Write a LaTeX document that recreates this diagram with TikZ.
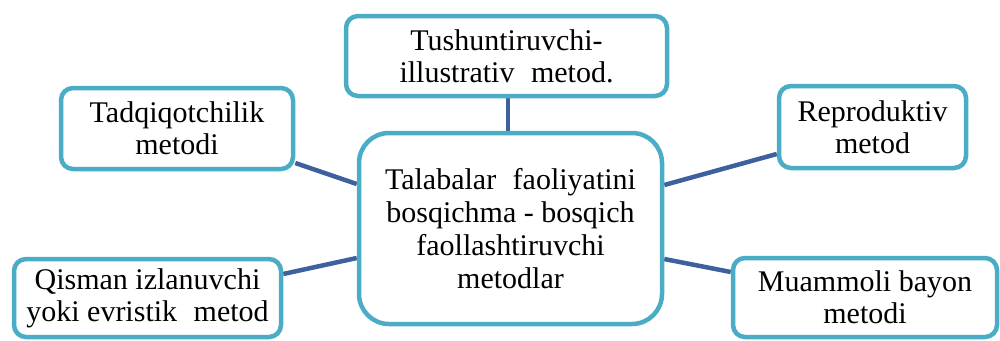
\documentclass[tikz,border=0pt]{standalone}
\usepackage{fontspec}
\setmainfont{Liberation Serif}
\newfontfamily\tnrfont{Liberation Serif}
\usetikzlibrary{backgrounds}
\definecolor{boxborder}{RGB}{75,172,198}
\definecolor{linkblue}{RGB}{62,96,158}
\tikzset{
  methodbox/.style={draw=boxborder, line width=4.5pt, fill=white, rounded corners=12pt,
    align=center, inner sep=0pt, font=\tnrfont\fontsize{30}{32}\selectfont},
  centerbox/.style={methodbox, rounded corners=30pt, font=\tnrfont\fontsize{30}{33}\selectfont},
  link/.style={draw=linkblue, line width=4.5pt}
}
\begin{document}
\begin{tikzpicture}[x=1pt,y=-1pt]
\useasboundingbox (0,0) rectangle (1000,340);
\clip (0,0) rectangle (1000,340);
\node[centerbox, minimum width=303pt, minimum height=191pt] (c) at (510.5,228.5)
  {Talabalar\hspace{0.3em} faoliyatini\\bosqichma - bosqich\\faollashtiruvchi\\metodlar};
\node[methodbox, minimum width=321pt, minimum height=80pt] (top) at (506.5,56)
  {Tushuntiruvchi-\\illustrativ\hspace{0.3em} metod.};
\node[methodbox, minimum width=232pt, minimum height=81pt] (tad) at (177,128.5)
  {Tadqiqotchilik\\metodi};
\node[methodbox, minimum width=187pt, minimum height=82pt] (rep) at (872.5,127)
  {Reproduktiv\\metod};
\node[methodbox, minimum width=267pt, minimum height=78pt] (qis) at (147.5,298)
  {Qisman izlanuvchi\\yoki evristik\hspace{0.3em} metod};
\node[methodbox, minimum width=264pt, minimum height=79pt] (mua) at (865,297.5)
  {Muammoli bayon\\metodi};
\begin{scope}[on background layer]
\draw[link] ([xshift=1.5pt]top.south) -- ([xshift=-2.5pt]c.north);
\draw[link] ([yshift=-34.5pt]tad.east) -- ([yshift=44.5pt]c.west);
\draw[link] ([yshift=43.5pt]c.east) -- ([yshift=-27pt]rep.west);
\draw[link] ([yshift=24pt]qis.east) -- ([yshift=-29.5pt]c.west);
\draw[link] ([yshift=-30.5pt]c.east) -- ([yshift=25.5pt]mua.west);
\end{scope}
\end{tikzpicture}
\end{document}
